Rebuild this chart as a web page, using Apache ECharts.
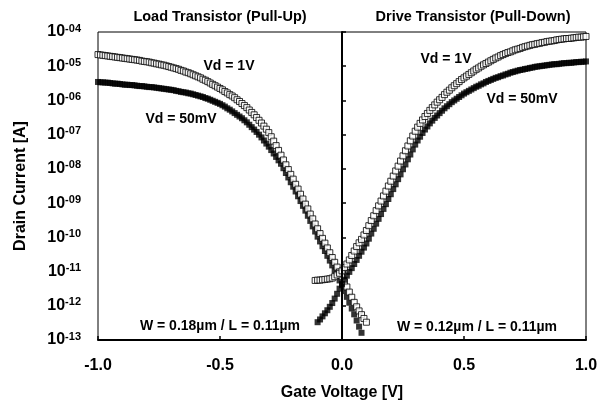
<!DOCTYPE html>
<html>
<head>
<meta charset="utf-8">
<script src="https://cdn.jsdelivr.net/npm/echarts@6/dist/echarts.min.js"></script>
<style>
html,body{margin:0;padding:0;background:#fff;}
#chart{width:602px;height:406px;}
</style>
</head>
<body>
<div id="chart"></div>
<script>
// Gate voltage sweep [V]
const gateVoltage = [
-1.00,-0.99,-0.98,-0.97,-0.96,-0.95,-0.94,-0.93,-0.92,-0.91,
-0.90,-0.89,-0.88,-0.87,-0.86,-0.85,-0.84,-0.83,-0.82,-0.81,
-0.80,-0.79,-0.78,-0.77,-0.76,-0.75,-0.74,-0.73,-0.72,-0.71,
-0.70,-0.69,-0.68,-0.67,-0.66,-0.65,-0.64,-0.63,-0.62,-0.61,
-0.60,-0.59,-0.58,-0.57,-0.56,-0.55,-0.54,-0.53,-0.52,-0.51,
-0.50,-0.49,-0.48,-0.47,-0.46,-0.45,-0.44,-0.43,-0.42,-0.41,
-0.40,-0.39,-0.38,-0.37,-0.36,-0.35,-0.34,-0.33,-0.32,-0.31,
-0.30,-0.29,-0.28,-0.27,-0.26,-0.25,-0.24,-0.23,-0.22,-0.21,
-0.20,-0.19,-0.18,-0.17,-0.16,-0.15,-0.14,-0.13,-0.12,-0.11,
-0.10,-0.09,-0.08,-0.07,-0.06,-0.05,-0.04,-0.03,-0.02,-0.01,
0.00,0.01,0.02,0.03,0.04,0.05,0.06,0.07,0.08,0.09,
0.10,0.11,0.12,0.13,0.14,0.15,0.16,0.17,0.18,0.19,
0.20,0.21,0.22,0.23,0.24,0.25,0.26,0.27,0.28,0.29,
0.30,0.31,0.32,0.33,0.34,0.35,0.36,0.37,0.38,0.39,
0.40,0.41,0.42,0.43,0.44,0.45,0.46,0.47,0.48,0.49,
0.50,0.51,0.52,0.53,0.54,0.55,0.56,0.57,0.58,0.59,
0.60,0.61,0.62,0.63,0.64,0.65,0.66,0.67,0.68,0.69,
0.70,0.71,0.72,0.73,0.74,0.75,0.76,0.77,0.78,0.79,
0.80,0.81,0.82,0.83,0.84,0.85,0.86,0.87,0.88,0.89,
0.90,0.91,0.92,0.93,0.94,0.95,0.96,0.97,0.98,0.99,
1.00
];

// Drain current, as log10(I [A])
// Load transistor (pull-up), Vd = 1V, Vg = -1.00 .. 0.10
const loadVd1Log = [
-4.66,-4.67,-4.68,-4.69,-4.70,-4.71,-4.72,-4.73,-4.74,-4.75,
-4.76,-4.77,-4.78,-4.79,-4.80,-4.81,-4.82,-4.83,-4.85,-4.86,
-4.87,-4.88,-4.90,-4.91,-4.93,-4.94,-4.96,-4.97,-4.99,-5.01,
-5.03,-5.05,-5.07,-5.09,-5.12,-5.14,-5.17,-5.19,-5.22,-5.25,
-5.28,-5.31,-5.34,-5.38,-5.41,-5.45,-5.49,-5.53,-5.57,-5.61,
-5.65,-5.69,-5.74,-5.78,-5.83,-5.87,-5.92,-5.98,-6.03,-6.09,
-6.15,-6.21,-6.28,-6.35,-6.42,-6.50,-6.58,-6.66,-6.75,-6.84,
-6.94,-7.06,-7.19,-7.32,-7.46,-7.60,-7.74,-7.88,-8.02,-8.16,
-8.30,-8.45,-8.59,-8.74,-8.88,-9.03,-9.17,-9.32,-9.46,-9.61,
-9.75,-9.89,-10.03,-10.17,-10.31,-10.45,-10.59,-10.73,-10.87,-11.01,
-11.15,-11.30,-11.45,-11.60,-11.75,-11.90,-12.03,-12.15,-12.26,-12.37,
-12.48
];
// Load transistor (pull-up), Vd = 50mV, Vg = -1.00 .. 0.08
const loadVd50Log = [
-5.46,-5.47,-5.47,-5.48,-5.48,-5.49,-5.50,-5.51,-5.51,-5.52,
-5.53,-5.54,-5.54,-5.55,-5.55,-5.56,-5.57,-5.58,-5.58,-5.59,
-5.60,-5.61,-5.61,-5.62,-5.63,-5.64,-5.65,-5.66,-5.67,-5.68,
-5.69,-5.70,-5.72,-5.73,-5.75,-5.76,-5.77,-5.79,-5.80,-5.82,
-5.84,-5.86,-5.88,-5.90,-5.93,-5.95,-5.98,-6.01,-6.04,-6.07,
-6.10,-6.14,-6.18,-6.23,-6.27,-6.32,-6.37,-6.42,-6.47,-6.52,
-6.58,-6.64,-6.71,-6.78,-6.85,-6.92,-7.00,-7.08,-7.17,-7.26,
-7.35,-7.45,-7.55,-7.65,-7.75,-7.85,-7.98,-8.12,-8.25,-8.39,
-8.52,-8.66,-8.80,-8.94,-9.08,-9.22,-9.37,-9.52,-9.68,-9.83,
-9.98,-10.12,-10.26,-10.40,-10.54,-10.68,-10.82,-10.97,-11.11,-11.26,
-11.40,-11.57,-11.74,-11.91,-12.08,-12.25,-12.43,-12.61,-12.79
];
// Drive transistor (pull-down), Vd = 1V, Vg = -0.11 .. 1.00
const driveVd1Log = [
-11.26,-11.25,-11.25,-11.24,-11.23,-11.22,-11.21,-11.19,-11.15,-11.10,
-11.05,-10.98,-10.88,-10.78,-10.66,-10.53,-10.40,-10.27,-10.16,-10.06,
-9.93,-9.80,-9.66,-9.51,-9.37,-9.22,-9.08,-8.94,-8.79,-8.65,
-8.50,-8.36,-8.21,-8.06,-7.92,-7.77,-7.62,-7.47,-7.33,-7.18,
-7.04,-6.90,-6.78,-6.67,-6.57,-6.47,-6.38,-6.29,-6.21,-6.13,
-6.05,-5.98,-5.91,-5.83,-5.76,-5.70,-5.63,-5.57,-5.51,-5.45,
-5.39,-5.34,-5.29,-5.24,-5.19,-5.14,-5.09,-5.05,-5.00,-4.96,
-4.92,-4.88,-4.84,-4.80,-4.76,-4.73,-4.69,-4.66,-4.63,-4.60,
-4.58,-4.55,-4.52,-4.50,-4.48,-4.45,-4.43,-4.41,-4.39,-4.37,
-4.36,-4.34,-4.33,-4.31,-4.30,-4.28,-4.27,-4.26,-4.25,-4.23,
-4.22,-4.21,-4.20,-4.19,-4.19,-4.18,-4.17,-4.16,-4.15,-4.15,
-4.14,-4.13
];
// Drive transistor (pull-down), Vd = 50mV, Vg = -0.10 .. 1.00
const driveVd50Log = [
-12.48,-12.40,-12.31,-12.22,-12.13,-12.03,-11.92,-11.79,-11.65,-11.50,
-11.36,-11.24,-11.12,-11.01,-10.90,-10.78,-10.66,-10.54,-10.42,-10.30,
-10.18,-10.04,-9.89,-9.75,-9.60,-9.46,-9.32,-9.17,-9.03,-8.88,
-8.74,-8.59,-8.45,-8.30,-8.16,-8.01,-7.87,-7.72,-7.58,-7.43,
-7.29,-7.17,-7.06,-6.95,-6.85,-6.76,-6.67,-6.59,-6.51,-6.44,
-6.37,-6.30,-6.23,-6.17,-6.11,-6.05,-6.00,-5.95,-5.90,-5.85,
-5.80,-5.76,-5.72,-5.68,-5.64,-5.60,-5.57,-5.53,-5.50,-5.46,
-5.43,-5.40,-5.37,-5.34,-5.32,-5.29,-5.27,-5.24,-5.22,-5.19,
-5.17,-5.15,-5.13,-5.11,-5.10,-5.08,-5.07,-5.05,-5.04,-5.02,
-5.01,-5.00,-4.99,-4.98,-4.97,-4.96,-4.95,-4.94,-4.94,-4.93,
-4.92,-4.91,-4.91,-4.90,-4.90,-4.89,-4.88,-4.88,-4.87,-4.87,
-4.86
];

const xTickLabels = ['-1.0', '-0.5', '0.0', '0.5', '1.0'];
const yTickExponents = ['-13', '-12', '-11', '-10', '-09', '-08', '-07', '-06', '-05', '-04'];

const FONT = '"Liberation Sans", Arial, Helvetica, sans-serif';

function toPoints(volts, logs) {
  return logs.map((e, i) => [volts[i], Math.pow(10, e)]);
}

const loadVd1Data = toPoints(gateVoltage.slice(0, 111), loadVd1Log);
const loadVd50Data = toPoints(gateVoltage.slice(0, 109), loadVd50Log);
const driveVd1Data = toPoints(gateVoltage.slice(89), driveVd1Log);
const driveVd50Data = toPoints(gateVoltage.slice(90), driveVd50Log);

const openSquare = { color: '#ffffff', borderColor: '#000000', borderWidth: 1 };
const filledSquare = { color: '#000000', borderColor: '#000000', borderWidth: 0 };

function txt(text, x, y, size) {
  return {
    type: 'text', x: x, y: y, silent: true, z: 100,
    style: {
      text: text, fill: '#000', font: 'bold ' + size + 'px ' + FONT,
      align: 'center', verticalAlign: 'middle'
    }
  };
}

const chart = echarts.init(document.getElementById('chart'), null, { renderer: 'canvas' });
chart.setOption({
  animation: false,
  backgroundColor: '#ffffff',
  grid: { left: 98, right: 16, top: 32, bottom: 62, show: true, borderColor: '#000', borderWidth: 1, backgroundColor: 'transparent' },
  xAxis: {
    type: 'value', min: -1, max: 1, interval: 0.5,
    name: 'Gate Voltage [V]', nameLocation: 'middle', nameGap: 45,
    nameTextStyle: { fontFamily: FONT, fontWeight: 'bold', fontSize: 16, color: '#000' },
    axisLine: { show: true, lineStyle: { color: '#000', width: 2 } },
    axisTick: { show: true, inside: true, length: 4, lineStyle: { color: '#000', width: 1.5 } },
    axisLabel: {
      margin: 18, fontFamily: FONT, fontWeight: 'bold', fontSize: 16, color: '#000',
      formatter: function (v) { return xTickLabels[Math.round((v + 1) * 2)]; }
    },
    splitLine: { show: false }
  },
  yAxis: {
    type: 'log', logBase: 10, min: 1e-13, max: 1e-4, splitNumber: 9,
    name: 'Drain Current [A]', nameLocation: 'middle', nameGap: 69,
    nameTextStyle: { fontFamily: FONT, fontWeight: 'bold', fontSize: 16, color: '#000' },
    axisLine: { show: true, lineStyle: { color: '#000', width: 2 } },
    axisTick: { show: true, inside: true, length: 4, lineStyle: { color: '#000', width: 1.5 } },
    axisLabel: {
      margin: 17, color: '#000',
      formatter: function (v) {
        const e = Math.round(Math.log10(v));
        return '{b|10}{s|' + yTickExponents[e + 13] + '}';
      },
      rich: {
        b: { fontFamily: FONT, fontWeight: 'bold', fontSize: 16, color: '#000', lineHeight: 18 },
        s: { fontFamily: FONT, fontWeight: 'bold', fontSize: 11, color: '#000', verticalAlign: 'top', lineHeight: 12 }
      }
    },
    splitLine: { show: false }
  },
  series: [
    { name: 'Load Vd = 50mV', type: 'scatter', symbol: 'rect', symbolSize: 6, itemStyle: filledSquare, data: loadVd50Data },
    { name: 'Load Vd = 1V', type: 'scatter', symbol: 'rect', symbolSize: 6, itemStyle: openSquare, data: loadVd1Data },
    { name: 'Drive Vd = 50mV', type: 'scatter', symbol: 'rect', symbolSize: 6, itemStyle: filledSquare, data: driveVd50Data },
    { name: 'Drive Vd = 1V', type: 'scatter', symbol: 'rect', symbolSize: 6, itemStyle: openSquare, data: driveVd1Data,
      markLine: { silent: true, symbol: 'none', label: { show: false },
        lineStyle: { color: '#000', width: 2, type: 'solid' }, data: [{ xAxis: 0 }] } }
  ],
  graphic: [
    txt('Load Transistor (Pull-Up)', 220, 17, 14.5),
    txt('Drive Transistor (Pull-Down)', 473, 17, 14.5),
    txt('Vd = 1V', 229, 66, 14),
    txt('Vd = 50mV', 181, 119, 14),
    txt('Vd = 1V', 446, 59, 14),
    txt('Vd = 50mV', 522, 99, 14),
    txt('W = 0.18µm / L = 0.11µm', 220, 326, 14),
    txt('W = 0.12µm / L = 0.11µm', 477, 327, 14)
  ]
});
</script>
</body>
</html>
